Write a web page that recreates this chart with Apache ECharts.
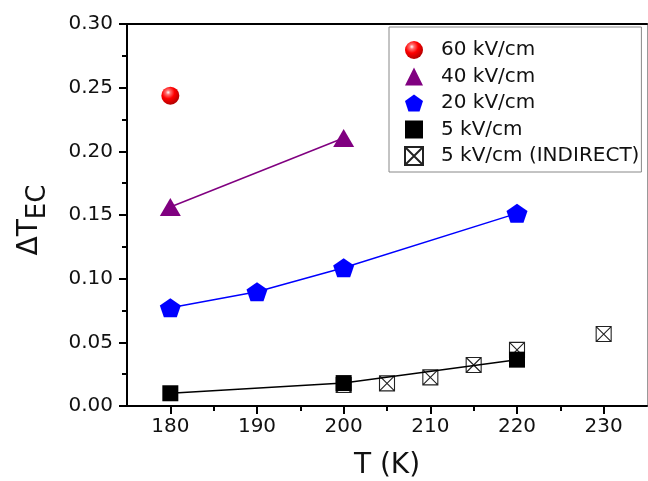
<!DOCTYPE html>
<html>
<head>
<meta charset="utf-8">
<script src="https://cdn.jsdelivr.net/npm/echarts@6/dist/echarts.min.js"></script>
<style>
  html, body { margin: 0; padding: 0; background: #fff; }
  #chart { width: 648px; height: 481px; }
</style>
</head>
<body>
<div id="chart"></div>
<script>
// data (T in K, dT_EC)
var temps60 = [180];
var dT60 = [0.2437];
var temps40 = [180, 200];
var dT40 = [0.1563, 0.2105];
var temps20 = [180, 190, 200, 220];
var dT20 = [0.0772, 0.0898, 0.1086, 0.1513];
var temps5 = [180, 200, 220];
var dT5 = [0.0100, 0.0180, 0.0364];
var tempsInd = [200, 205, 210, 215, 220, 230];
var dTInd = [0.0165, 0.0178, 0.0225, 0.0322, 0.0441, 0.0565];

var xMajor = [180, 190, 200, 210, 220, 230];
var xMinor = [185, 195, 205, 215, 225];
var legendNames = ['60 kV/cm', '40 kV/cm', '20 kV/cm', '5 kV/cm', '5 kV/cm (INDIRECT)'];

function pairs(xs, ys) {
    return xs.map(function (x, i) { return [x, ys[i]]; });
}

var FONT = 'DejaVu Sans';
var pentagon = 'path://M50,0 L97.6,34.5 L79.4,90.5 L20.6,90.5 L2.4,34.5 Z';
var boxCross = 'path://M0,0 L20,0 L20,20 L0,20 Z M0,0 L20,20 M20,0 L0,20';
var sphere = {
    type: 'radial', x: 0.38, y: 0.32, r: 0.7,
    colorStops: [
        { offset: 0, color: '#ffffff' },
        { offset: 0.18, color: '#ff7070' },
        { offset: 0.5, color: '#ff0000' },
        { offset: 1, color: '#b00000' }
    ]
};

var chart = echarts.init(document.getElementById('chart'));
chart.setOption({
    backgroundColor: '#fff',
    animation: false,
    grid: { left: 127, right: 1, top: 24, bottom: 75, outerBoundsMode: 'none', containLabel: false },
    legend: {
        data: legendNames,
        orient: 'vertical',
        left: 389,
        top: 27,
        padding: [13, 2, 6, 15],
        itemWidth: 18,
        itemHeight: 18,
        itemGap: 6.5,
        backgroundColor: '#fff',
        borderColor: '#888',
        borderWidth: 1,
        textStyle: { fontFamily: FONT, fontSize: 20, color: '#111', padding: [0, 0, 0, 13] }
    },
    xAxis: [
        {
            type: 'value', min: 175, max: 235,
            name: 'T (K)', nameLocation: 'middle', nameGap: 46,
            nameTextStyle: { fontFamily: FONT, fontSize: 28, color: '#111' },
            axisLine: { lineStyle: { color: '#000', width: 2 } },
            axisTick: { customValues: xMajor, length: 8, lineStyle: { color: '#000', width: 2 } },
            axisLabel: { customValues: xMajor, margin: 11, fontFamily: FONT, fontSize: 20, color: '#111' },
            splitLine: { show: false }
        },
        {
            type: 'value', min: 175, max: 235, position: 'bottom',
            axisLine: { show: false },
            axisTick: { customValues: xMinor, length: 5, lineStyle: { color: '#000', width: 2 } },
            axisLabel: { show: false },
            splitLine: { show: false }
        },
        {
            type: 'value', min: 175, max: 235, position: 'top',
            axisLine: { lineStyle: { color: '#000', width: 2 } },
            axisTick: { show: false },
            axisLabel: { show: false },
            splitLine: { show: false }
        }
    ],
    yAxis: [
        {
            type: 'value', min: 0, max: 0.3, interval: 0.05,
            name: '{a|ΔT}{b|EC}', nameLocation: 'middle', nameRotate: 90, nameGap: 76,
            nameTextStyle: {
                fontFamily: FONT, color: '#111', padding: [0, 10, 0, 0],
                rich: {
                    a: { fontFamily: FONT, fontSize: 28, color: '#111', verticalAlign: 'top' },
                    b: { fontFamily: FONT, fontSize: 26, color: '#111', padding: [9, 0, 0, 0], verticalAlign: 'bottom' }
                }
            },
            axisLine: { lineStyle: { color: '#000', width: 2 } },
            axisTick: { length: 8, lineStyle: { color: '#000', width: 2 } },
            minorTick: { show: true, splitNumber: 2, length: 5, lineStyle: { color: '#000', width: 2 } },
            axisLabel: {
                margin: 14, fontFamily: FONT, fontSize: 20, color: '#111',
                formatter: function (v) { return v.toFixed(2); }
            },
            splitLine: { show: false }
        },
        {
            type: 'value', min: 0, max: 0.3, position: 'right',
            axisLine: { lineStyle: { color: '#999', width: 1 } },
            axisTick: { show: false },
            axisLabel: { show: false },
            splitLine: { show: false }
        }
    ],
    series: [
        // connecting lines
        { name: 'line40', type: 'line', data: pairs(temps40, dT40), showSymbol: false, lineStyle: { color: '#800080', width: 1.5 } },
        { name: 'line20', type: 'line', data: pairs(temps20, dT20), showSymbol: false, lineStyle: { color: '#0000ff', width: 1.5 } },
        { name: 'line5', type: 'line', data: pairs(temps5, dT5), showSymbol: false, lineStyle: { color: '#000', width: 1.5 } },
        // markers
        {
            name: '5 kV/cm (INDIRECT)', type: 'scatter', data: pairs(tempsInd, dTInd),
            symbol: boxCross, symbolSize: 15,
            itemStyle: { color: '#fff', borderColor: '#222', borderWidth: 1.1, opacity: 1 }
        },
        {
            name: '5 kV/cm', type: 'scatter', data: pairs(temps5, dT5),
            symbol: 'rect', symbolSize: 16,
            itemStyle: { color: '#000', opacity: 1 }
        },
        {
            name: '20 kV/cm', type: 'scatter', data: pairs(temps20, dT20),
            symbol: pentagon, symbolSize: [21, 19],
            itemStyle: { color: '#0000ff', opacity: 1 }
        },
        {
            name: '40 kV/cm', type: 'scatter', data: pairs(temps40, dT40),
            symbol: 'triangle', symbolSize: [21, 18],
            itemStyle: { color: '#800080', opacity: 1 }
        },
        {
            name: '60 kV/cm', type: 'scatter', data: pairs(temps60, dT60),
            symbol: 'circle', symbolSize: 18,
            itemStyle: { color: sphere, opacity: 1 }
        }
    ]
});
</script>
</body>
</html>
